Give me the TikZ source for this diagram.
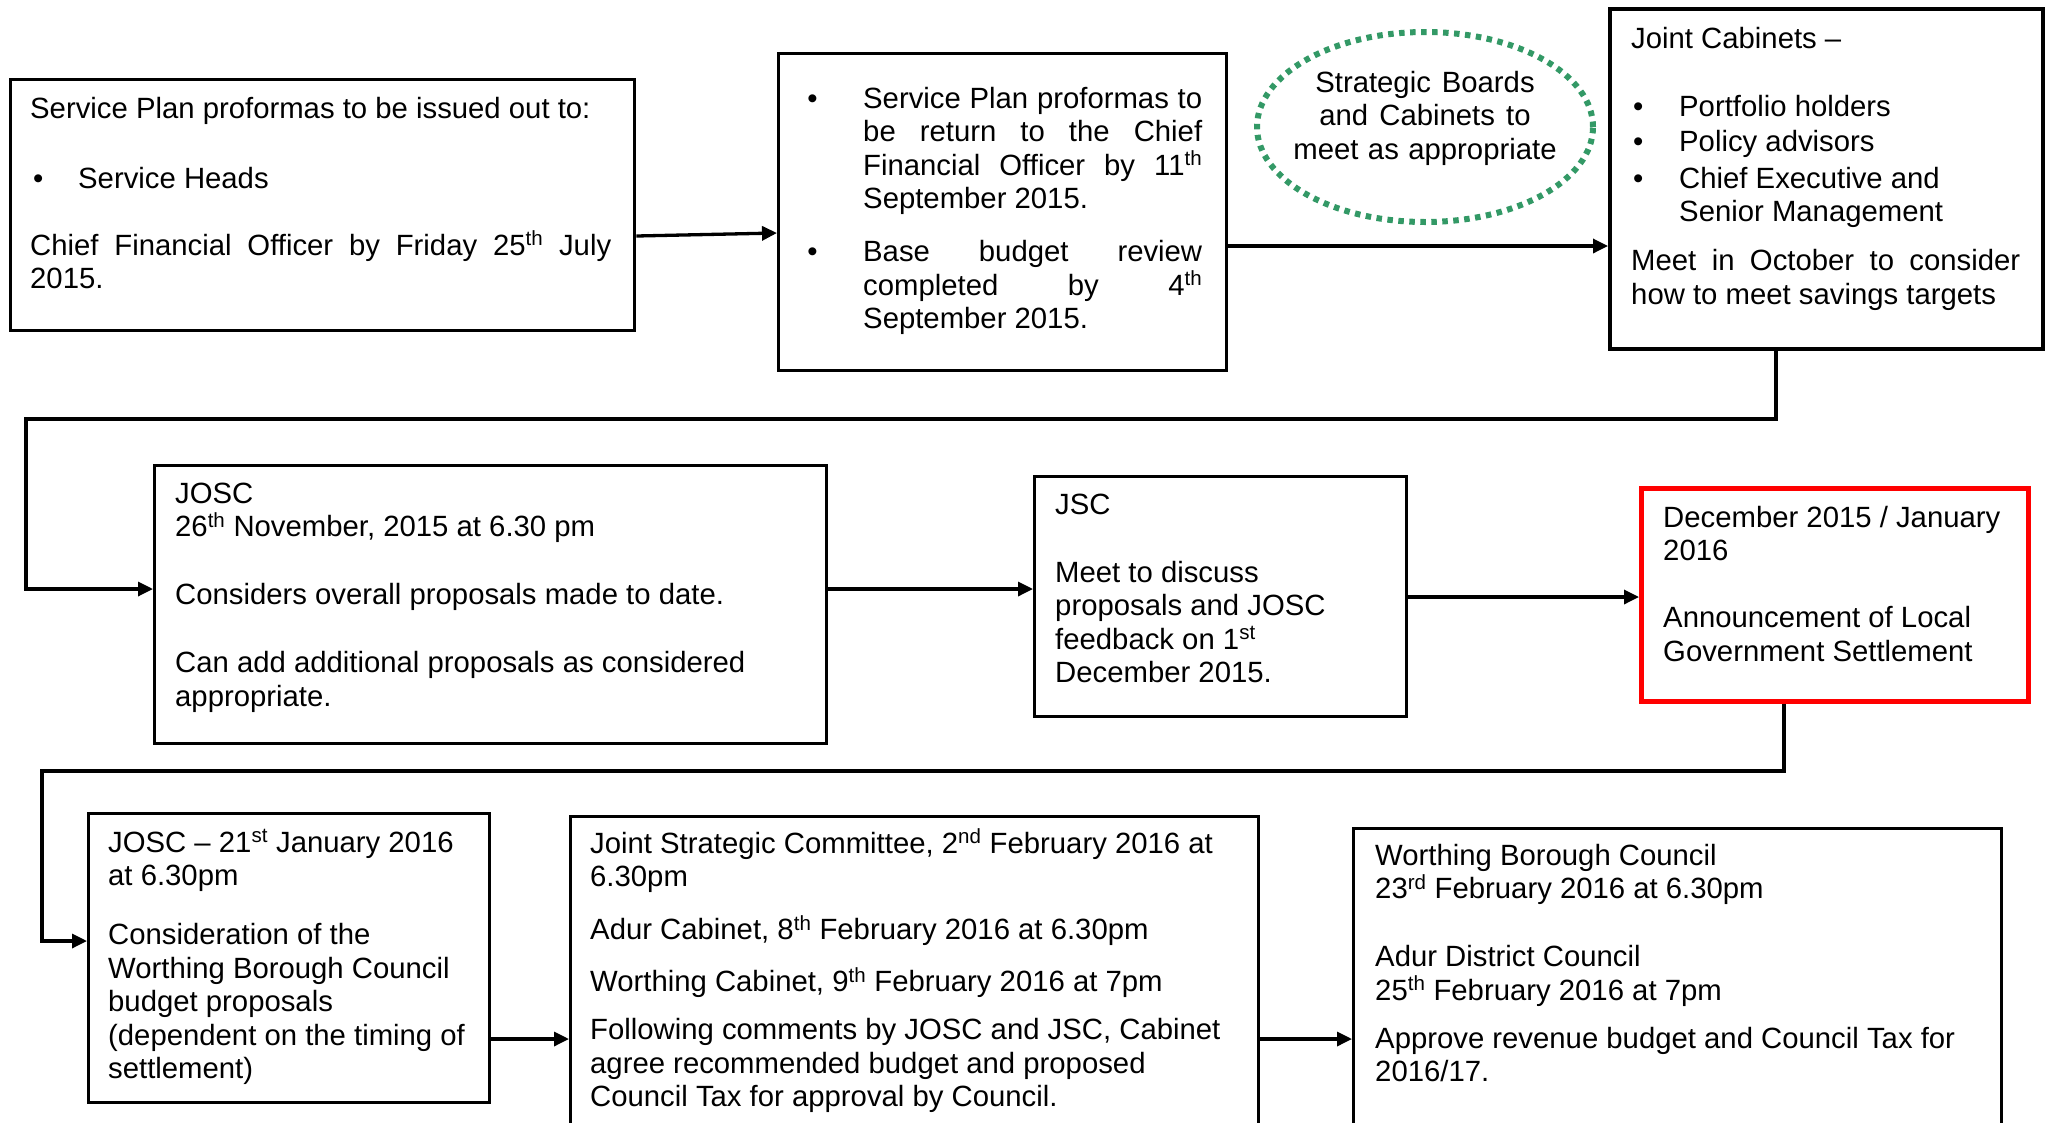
\documentclass[tikz,border=0pt]{standalone}
\usepackage{fontspec}
\setmainfont{Liberation Sans}
\usetikzlibrary{arrows.meta,shapes.geometric}
\definecolor{dotgreen}{RGB}{51,153,102}
\definecolor{boxred}{RGB}{255,0,0}
\tikzset{
  box/.style={draw=black, line width=3.4pt, inner sep=0pt, anchor=north west, fill=none},
  redbox/.style={box, draw=boxred, line width=4.6pt},
  txt/.style={anchor=base west, inner sep=0pt, align=left, font=\fontsize{29.3}{33.5}\selectfont},
  conn/.style={line width=3.3pt},
  arr/.style={conn, -{Triangle[length=15pt,width=14pt]}},
}
\newcommand{\ns}{\spaceskip=0pt\xspaceskip=0pt\rightskip=0pt plus 1fil\relax}
\newcommand{\jline}[1]{\makebox[\linewidth][s]{#1}}
\newcommand{\supr}[1]{\textsuperscript{#1}}
\newcommand{\bulA}{\leavevmode\llap{\textbullet\hspace*{45.5pt}}}
\begin{document}
\begin{tikzpicture}[x=1pt,y=-1pt]
\useasboundingbox (0,0) rectangle (2047,1122);
\clip (0,0) rectangle (2047,1122);
\fill[white] (0,0) rectangle (2047,1122);

% boxes
\node[box, minimum width=624pt, minimum height=251pt] (b1) at (9,78) {};
\node[box, minimum width=448pt, minimum height=317pt] (b2) at (777,52) {};
\node[draw=dotgreen, line width=6pt, dash pattern=on 5.5pt off 5.5pt, ellipse,
      minimum width=336pt, minimum height=190pt, inner sep=0pt] (sb) at (1425,127) {};
\node[box, line width=4.4pt, minimum width=433pt, minimum height=340pt] (b3) at (1608,7) {};
\node[box, minimum width=672pt, minimum height=278pt] (b4) at (153,464) {};
\node[box, minimum width=372pt, minimum height=240pt] (b5) at (1033,475) {};
\node[redbox, minimum width=387pt, minimum height=213pt] (b6) at (1639,486) {};
\node[box, minimum width=401pt, minimum height=289pt] (b7) at (87,812) {};
\node[box, minimum width=688pt, minimum height=360pt] (b8) at (569,815) {};
\node[box, minimum width=648pt, minimum height=350pt] (b9) at (1352,827) {};

% texts
\node[txt, text width=581pt] (t1) at (30,118) {\ns
Service Plan proformas to be issued out to:\\[36.5pt]
\hspace*{3pt}\makebox[45pt][l]{\textbullet}Service Heads\\[33.5pt]
\jline{Chief Financial Officer by Friday 25\supr{th} July}\\
2015.};

\node[txt, text width=339pt] (t2) at (863,108) {\ns
\bulA\jline{Service Plan proformas to}\\
\jline{be return to the Chief}\\
\jline{Financial Officer by 11\supr{th}}\\
September 2015.\\[19.5pt]
\bulA\jline{Base budget review}\\
\jline{completed by 4\supr{th}}\\
September 2015.};

\node[txt, text width=300pt, align=center, anchor=base] (tsb) at (1425,92) {\spaceskip=0pt\xspaceskip=0pt\relax
Strategic Boards\\ and Cabinets to\\ meet as appropriate};

\node[txt, text width=389pt] (t3) at (1631,48) {\ns
Joint Cabinets --\\[34.5pt]
\hspace*{2pt}\makebox[46pt][l]{\textbullet}Portfolio holders\\[1.5pt]
\hspace*{2pt}\makebox[46pt][l]{\textbullet}Policy advisors\\[3.5pt]
\hspace*{2pt}\makebox[46pt][l]{\textbullet}Chief Executive and\\
\hspace*{48pt}Senior Management\\[15.5pt]
\jline{Meet in October to consider}\\
how to meet savings targets};

\node[txt, text width=640pt] (t4) at (175,503) {\ns
JOSC\\
26\supr{th} November, 2015 at 6.30 pm\\[34.5pt]
Considers overall proposals made to date.\\[34.5pt]
Can add additional proposals as considered\\
appropriate.};

\node[txt, text width=340pt] (t5) at (1055,514) {\ns
JSC\\[34.5pt]
Meet to discuss\\
proposals and JOSC\\
feedback on 1\supr{st}\\
December 2015.};

\node[txt, text width=355pt] (t6) at (1663,527) {\ns
December 2015 / January\\
2016\\[33.5pt]
Announcement of Local\\
Government Settlement};

\node[txt, text width=375pt] (t7) at (108,852) {\ns
JOSC -- 21\supr{st} January 2016\\
at 6.30pm\\[25.5pt]
Consideration of the\\
Worthing Borough Council\\
budget proposals\\
(dependent on the timing of\\
settlement)};

\node[txt, text width=660pt] (t8) at (590,853) {\ns
Joint Strategic Committee, 2\supr{nd} February 2016 at\\
6.30pm\\[19.5pt]
Adur Cabinet, 8\supr{th} February 2016 at 6.30pm\\[18.5pt]
Worthing Cabinet, 9\supr{th} February 2016 at 7pm\\[14.5pt]
Following comments by JOSC and JSC, Cabinet\\
agree recommended budget and proposed\\
Council Tax for approval by Council.};

\node[txt, text width=620pt] (t9) at (1375,865) {\ns
Worthing Borough Council\\
23\supr{rd} February 2016 at 6.30pm\\[34.5pt]
Adur District Council\\
25\supr{th} February 2016 at 7pm\\[14.5pt]
Approve revenue budget and Council Tax for\\
2016/17.};

% helper coordinates
\coordinate (ya) at (0,236);
\coordinate (yb) at (0,233);
\coordinate (yc) at (0,246);
\coordinate (e1a) at (1776,419);
\coordinate (e1b) at (26,419);
\coordinate (e1c) at (26,589);
\coordinate (yd) at (0,597);
\coordinate (e2a) at (1784,771);
\coordinate (e2b) at (42,771);
\coordinate (e2c) at (42,941);
\coordinate (ye) at (0,1039);

% connectors
\draw[arr] (b1.east |- ya) -- (b2.west |- yb);
\draw[arr] (b2.east |- yc) -- (b3.west |- yc);
\draw[arr] (b3.south -| e1a) -- (e1a) -- (e1b) -- (e1c) -- (b4.west |- e1c);
\draw[arr] (b4.east |- e1c) -- (b5.west |- e1c);
\draw[arr] (b5.east |- yd) -- (b6.west |- yd);
\draw[arr] (b6.south -| e2a) -- (e2a) -- (e2b) -- (e2c) -- (b7.west |- e2c);
\draw[arr] (b7.east |- ye) -- (b8.west |- ye);
\draw[arr] (b8.east |- ye) -- (b9.west |- ye);
\end{tikzpicture}
\end{document}
